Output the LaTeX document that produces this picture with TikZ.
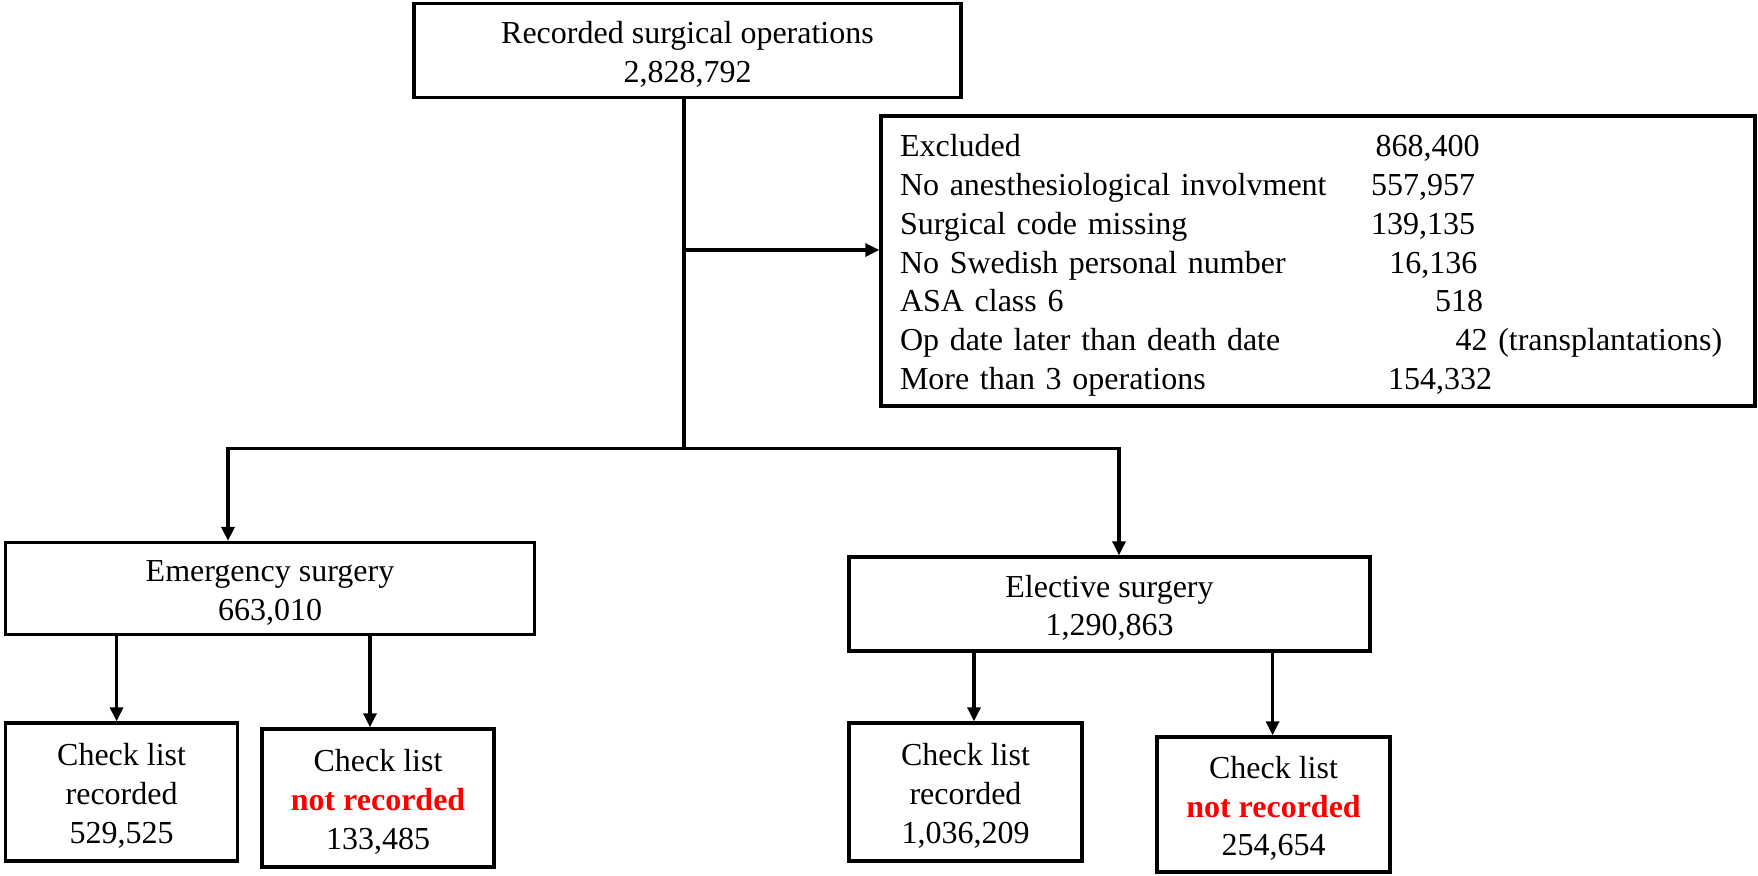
\documentclass[tikz,border=0pt]{standalone}
\usepackage{fontspec}
\setmainfont{Liberation Serif}
\usetikzlibrary{arrows.meta}
\definecolor{nrred}{RGB}{255,0,0}
\newcommand{\exrow}[3]{\makebox[296pt][l]{#1\hfill #2\hspace{#3}}}
\newcommand{\ctext}[1]{\raisebox{-2.4pt}[\height][\depth]{\begin{tabular}{@{}c@{}}#1\end{tabular}}}
\newcommand{\ltext}[1]{\raisebox{-2.2pt}[\height][\depth]{\begin{tabular}{@{}l@{}}#1\end{tabular}}}
\begin{document}
\begin{tikzpicture}[x=0.5pt,y=-0.5pt,
  box/.style={draw, line width=1.7pt, align=center, inner sep=0pt,
    font=\fontsize{16}{19.4}\selectfont},
  conn/.style={line width=1.6pt, line cap=rect},
  arr/.style={conn, -{Triangle[length=7pt,width=6.5pt]}}]
\useasboundingbox (0,0) rectangle (1758,875);
\node[box, minimum width=273.5pt, minimum height=47pt] (top) at (687.5,50.5)
  {\ctext{Recorded surgical operations\\2,828,792}};
\node[box, minimum height=145pt, text width=418pt, inner xsep=9.5pt, align=left] (excl) at (1318,261)
  {\ltext{\exrow{Excluded}{868,400}{6.2pt}\\
   \exrow{No anesthesiological involvment}{557,957}{8.4pt}\\
   \exrow{Surgical code missing}{139,135}{8.4pt}\\
   \exrow{No Swedish personal number}{16,136}{7.3pt}\\
   \exrow{ASA class 6}{518}{4.5pt}\\
   \exrow{Op date later than death date}{42\rlap{ (transplantations)}}{2.2pt}\\
   \exrow{More than 3 operations}{154,332}{0pt}}};
\node[box, minimum width=264.5pt, minimum height=46pt] (emerg) at (270,588.6)
  {\ctext{Emergency surgery\\663,010}};
\node[box, minimum width=260.5pt, minimum height=47pt] (elect) at (1109.5,604)
  {\ctext{Elective surgery\\1,290,863}};
\node[box, minimum width=116pt, minimum height=69pt] (clr1) at (121.6,792)
  {\ctext{Check list\\recorded\\529,525}};
\node[box, minimum width=116pt, minimum height=69pt] (clnr1) at (378,798)
  {\ctext{Check list\\\textcolor{nrred}{\textbf{not recorded}}\\133,485}};
\node[box, minimum width=116.5pt, minimum height=69pt] (clr2) at (965.5,792)
  {\ctext{Check list\\recorded\\1,036,209}};
\node[box, minimum width=116.5pt, minimum height=67.5pt] (clnr2) at (1273.5,804.5)
  {\ctext{Check list\\\textcolor{nrred}{\textbf{not recorded}}\\254,654}};
\coordinate (trunk) at (684,448.5);
\coordinate (branch) at (684,250);
\coordinate (hl) at (228,448.5);
\coordinate (hr) at (1119,448.5);
\coordinate (a1) at (116.6,0);
\coordinate (a2) at (370,0);
\coordinate (a3) at (974,0);
\coordinate (a4) at (1272.6,0);
\draw[conn] (top.south -| trunk) -- (trunk);
\draw[arr] (branch) -- (branch -| excl.west);
\draw[conn] (hl) -- (hr);
\draw[arr] (hl) -- (hl |- emerg.north);
\draw[arr] (hr) -- (hr |- elect.north);
\draw[arr] (emerg.south -| a1) -- (clr1.north -| a1);
\draw[arr] (emerg.south -| a2) -- (clnr1.north -| a2);
\draw[arr] (elect.south -| a3) -- (clr2.north -| a3);
\draw[arr] (elect.south -| a4) -- (clnr2.north -| a4);
\end{tikzpicture}
\end{document}
